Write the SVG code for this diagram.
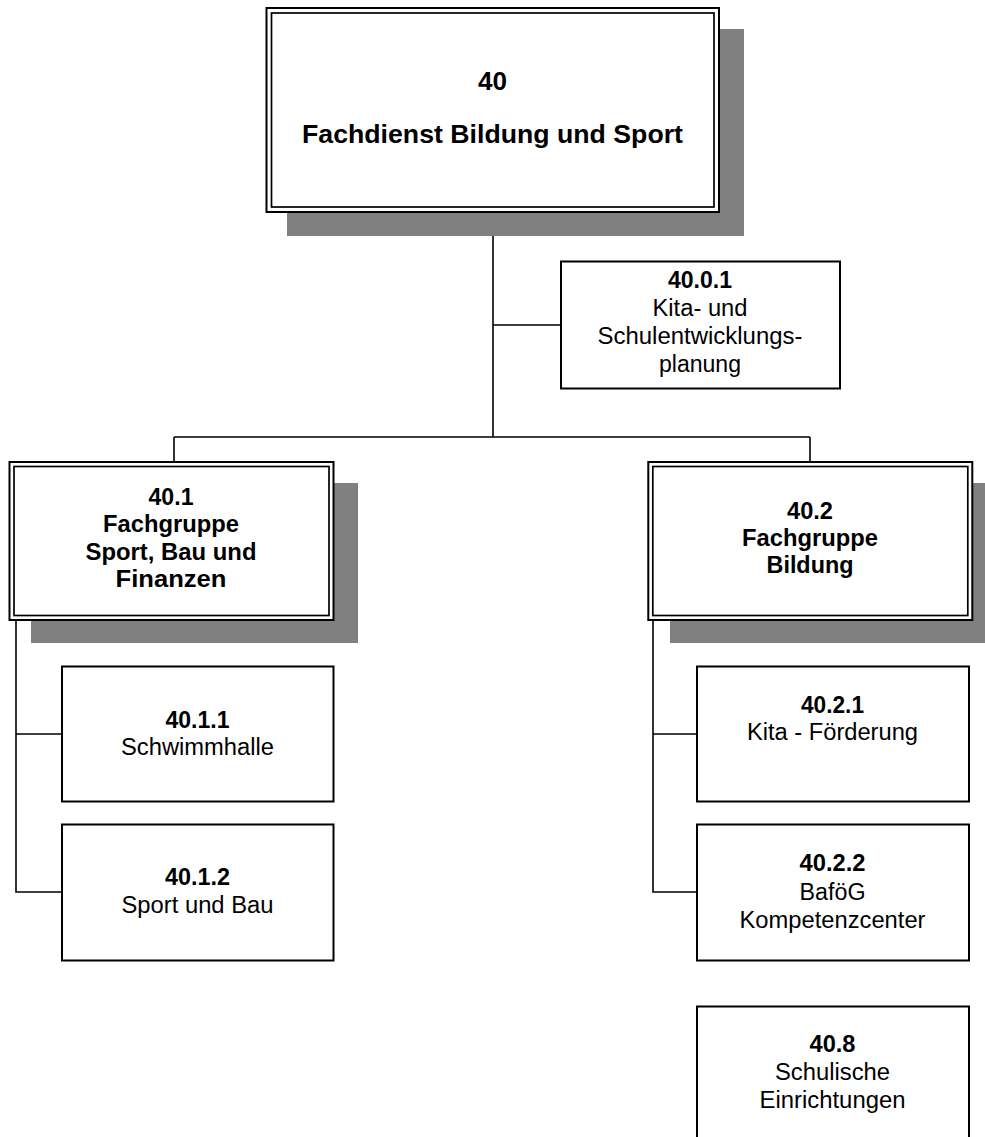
<svg xmlns="http://www.w3.org/2000/svg" width="985" height="1137" viewBox="0 0 985 1137">
<style>
text{font-family:"Liberation Sans",Arial,sans-serif;font-size:23px;fill:#000;text-anchor:middle}
.b{font-weight:bold}
.big{font-size:26px;font-weight:bold}
.shadow{fill:#808080;stroke:none}
.box{fill:#fff;stroke:#000;stroke-width:2}
.outer{fill:#fff;stroke:#000;stroke-width:2}
.inner{fill:none;stroke:#000;stroke-width:1.7}
.con{fill:none;stroke:#000;stroke-width:1.6}
</style>
<rect width="985" height="1137" fill="#fff"/>
<g id="connectors">
<path class="con" d="M493,212 V437 M174,437 H810 M174,437 V462 M810,437 V462 M493,325 H561"/>
<path class="con" d="M16,620 V892 H62 M16,734 H62"/>
<path class="con" d="M653,620 V892 H697 M653,734 H697"/>
</g>
<g id="n40">
<rect class="shadow" x="287" y="29" width="457" height="207"/>
<rect class="outer" x="266.5" y="8" width="452.5" height="204" stroke-width="3"/>
<rect class="inner" x="271.5" y="13" width="442.5" height="194" stroke-width="2"/>
<text class="big" x="492.5" y="90" textLength="29" lengthAdjust="spacingAndGlyphs">40</text>
<text class="big" x="492.5" y="143" textLength="381" lengthAdjust="spacingAndGlyphs">Fachdienst Bildung und Sport</text>
</g>
<g id="n40_0_1">
<rect class="box" x="561" y="261.5" width="279" height="127"/>
<text class="b" x="700" y="288" textLength="64" lengthAdjust="spacingAndGlyphs">40.0.1</text>
<text x="700" y="316" textLength="95" lengthAdjust="spacingAndGlyphs">Kita- und</text>
<text x="700" y="344" textLength="205" lengthAdjust="spacingAndGlyphs">Schulentwicklungs-</text>
<text x="700" y="372" textLength="82" lengthAdjust="spacingAndGlyphs">planung</text>
</g>
<g id="n40_1">
<rect class="shadow" x="31" y="483" width="327" height="160"/>
<rect class="outer" x="9.5" y="462" width="324" height="158"/>
<rect class="inner" x="14" y="466.5" width="315" height="149"/>
<text class="b" x="171" y="505" textLength="45" lengthAdjust="spacingAndGlyphs">40.1</text>
<text class="b" x="171" y="532" textLength="136" lengthAdjust="spacingAndGlyphs">Fachgruppe</text>
<text class="b" x="171" y="560" textLength="171" lengthAdjust="spacingAndGlyphs">Sport, Bau und</text>
<text class="b" x="171" y="587" textLength="111" lengthAdjust="spacingAndGlyphs">Finanzen</text>
</g>
<g id="n40_2">
<rect class="shadow" x="670" y="483" width="330" height="160"/>
<rect class="outer" x="648.3" y="462" width="324" height="158"/>
<rect class="inner" x="652.8" y="466.5" width="315" height="149"/>
<text class="b" x="810" y="519" textLength="46" lengthAdjust="spacingAndGlyphs">40.2</text>
<text class="b" x="810" y="546" textLength="136" lengthAdjust="spacingAndGlyphs">Fachgruppe</text>
<text class="b" x="810" y="573" textLength="87" lengthAdjust="spacingAndGlyphs">Bildung</text>
</g>
<g id="n40_1_1">
<rect class="box" x="62" y="666.5" width="271.5" height="135"/>
<text class="b" x="197.5" y="727.5" textLength="64" lengthAdjust="spacingAndGlyphs">40.1.1</text>
<text x="197.5" y="755" textLength="153" lengthAdjust="spacingAndGlyphs">Schwimmhalle</text>
</g>
<g id="n40_1_2">
<rect class="box" x="62" y="824.5" width="271.5" height="136"/>
<text class="b" x="197.5" y="884.5" textLength="65" lengthAdjust="spacingAndGlyphs">40.1.2</text>
<text x="197.5" y="913" textLength="152" lengthAdjust="spacingAndGlyphs">Sport und Bau</text>
</g>
<g id="n40_2_1">
<rect class="box" x="697" y="666.5" width="272" height="135"/>
<text class="b" x="832.5" y="712.5" textLength="63" lengthAdjust="spacingAndGlyphs">40.2.1</text>
<text x="832.5" y="740" textLength="171" lengthAdjust="spacingAndGlyphs">Kita - Förderung</text>
</g>
<g id="n40_2_2">
<rect class="box" x="697" y="824.5" width="272" height="136"/>
<text class="b" x="832.5" y="871" textLength="66" lengthAdjust="spacingAndGlyphs">40.2.2</text>
<text x="832.5" y="900" textLength="66" lengthAdjust="spacingAndGlyphs">BaföG</text>
<text x="832.5" y="928" textLength="186" lengthAdjust="spacingAndGlyphs">Kompetenzcenter</text>
</g>
<g id="n40_8">
<rect class="box" x="697" y="1006.5" width="272" height="140"/>
<text class="b" x="832.5" y="1051.5" textLength="46" lengthAdjust="spacingAndGlyphs">40.8</text>
<text x="832.5" y="1080" textLength="115" lengthAdjust="spacingAndGlyphs">Schulische</text>
<text x="832.5" y="1108" textLength="146" lengthAdjust="spacingAndGlyphs">Einrichtungen</text>
</g>
</svg>
